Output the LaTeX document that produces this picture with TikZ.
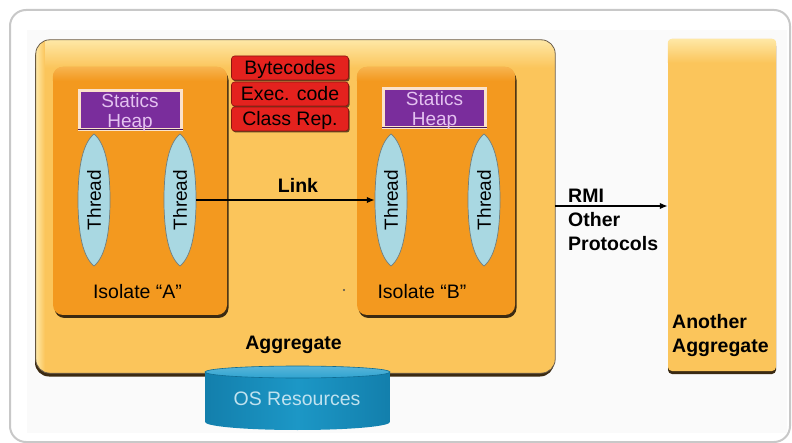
\documentclass[tikz,border=0pt]{standalone}
\usepackage{fontspec}
\setmainfont{Liberation Sans}
\usetikzlibrary{shapes.geometric,arrows.meta,shadows,calc}

\definecolor{aggfill}{HTML}{FBC55B}
\definecolor{agglight}{HTML}{FEE8A6}
\definecolor{isofill}{HTML}{F3991F}
\definecolor{isolight}{HTML}{F7B450}
\definecolor{codered}{HTML}{E4221E}
\definecolor{codeedge}{HTML}{8C1410}
\definecolor{heapviolet}{HTML}{7A2D9C}
\definecolor{heapedge}{HTML}{FBE2CB}
\definecolor{heaptext}{HTML}{E4C2F0}
\definecolor{threadfill}{HTML}{A9D8E2}
\definecolor{threadedge}{HTML}{6F7F80}
\definecolor{osblue}{HTML}{1C97C6}
\definecolor{osdark}{HTML}{137FAC}
\definecolor{ostop}{HTML}{2FA3D0}
\definecolor{framegray}{HTML}{C8C8C8}
\definecolor{edgedark}{HTML}{3B2A12}

% light band along the top of a rounded box
\newcommand\topgloss[5]{%
  \begin{scope}
    \clip[rounded corners=#3] (#1.south west) rectangle (#1.north east);
    \shade[top color=#4, bottom color=#5] (#1.north west) rectangle ([yshift=-#2]#1.north east);
  \end{scope}}

% pointed oval behind a thread label
\newcommand\threadlens[1]{%
  \filldraw[fill=threadfill, draw=threadedge, line width=.7]
    ($(#1)+(0,-66)$) .. controls ($(#1)+(-11,-57)$) and ($(#1)+(-16,-34)$) .. ($(#1)+(-16,0)$)
    .. controls ($(#1)+(-16,34)$) and ($(#1)+(-11,57)$) .. ($(#1)+(0,66)$)
    .. controls ($(#1)+(11,57)$) and ($(#1)+(16,34)$) .. ($(#1)+(16,0)$)
    .. controls ($(#1)+(16,-34)$) and ($(#1)+(11,-57)$) .. cycle;}

\tikzset{
  txt/.style={font=\fontsize{19.5}{24}\selectfont, inner sep=0},
  boldtxt/.style={txt, font=\fontsize{19.5}{24}\selectfont\bfseries},
  aggbox/.style={fill=aggfill, rounded corners=14, inner sep=0,
    drop shadow={shadow xshift=-1pt, shadow yshift=-3.5pt, fill=edgedark, opacity=1}},
  isobox/.style={fill=isofill, rounded corners=10, inner sep=0,
    drop shadow={shadow xshift=1.5pt, shadow yshift=-3pt, fill=edgedark, opacity=1}},
  codebox/.style={fill=codered, draw=codeedge, line width=.6, rounded corners=3,
    minimum width=117, minimum height=24, inner sep=0, text height=14, text depth=0,
    font=\fontsize{19.5}{22}\selectfont,
    drop shadow={shadow xshift=1.2pt, shadow yshift=-1.5pt, fill=edgedark, opacity=.8}},
  heapbox/.style={fill=heapviolet, draw=heapedge, line width=3,
    minimum width=102, minimum height=39, inner sep=0},
  heaplabel/.style={txt, align=center, text=heaptext, font=\fontsize{19}{20}\selectfont},
  thread/.style={ellipse, rotate=90, minimum width=132, minimum height=32, inner sep=0,
    text height=13.5, text depth=0, font=\fontsize{19}{22}\selectfont},
  conn/.style={line width=1.6, -{Latex[length=8pt,width=6.5pt]}},
}

\begin{document}
\begin{tikzpicture}[x=1pt, y=-1pt]
\useasboundingbox (0,0) rectangle (792,443);
\fill[white] (0,0) rectangle (792,443);
\draw[framegray, line width=2, rounded corners=16] (10,10) rectangle (790,442);
\fill[black!2] (27,30) rectangle (787,433);

% the aggregate and its two isolates
\node[aggbox, minimum width=519, minimum height=333] (agg) at (295.5,206.5) {};
\topgloss{agg}{28pt}{14}{agglight}{aggfill}
\begin{scope}
  \clip[rounded corners=14] (agg.south west) rectangle (agg.north east);
  \shade[left color=agglight, right color=aggfill] (agg.south west) rectangle ([xshift=9pt]agg.north west);
\end{scope}
\draw[edgedark!75, line width=.8, rounded corners=14] (agg.south west) rectangle (agg.north east);

\node[isobox, minimum width=174, minimum height=248] (isoA) at (140,191) {};
\topgloss{isoA}{14pt}{10}{isolight}{isofill}
\node[isobox, minimum width=158, minimum height=248] (isoB) at (436,191) {};
\topgloss{isoB}{14pt}{10}{isolight}{isofill}

% static heaps
\node[heapbox] (heapA) at (130,110.5) {};
\draw[heapviolet!60!black, line width=1.2] ([yshift=2.2pt]heapA.south west) -- ([yshift=2.2pt]heapA.south east);
\node[heaplabel] (heapAtxt) at (130,113) {Statics\\Heap};
\node[heapbox] (heapB) at (434.5,108.5) {};
\draw[heapviolet!60!black, line width=1.2] ([yshift=2.2pt]heapB.south west) -- ([yshift=2.2pt]heapB.south east);
\node[heaplabel] (heapBtxt) at (434.5,111) {Statics\\Heap};

% threads
\coordinate (ta1c) at (94,200);
\coordinate (ta2c) at (180,200);
\coordinate (tb1c) at (391,200);
\coordinate (tb2c) at (484,200);
\threadlens{ta1c}\threadlens{ta2c}\threadlens{tb1c}\threadlens{tb2c}
\node[thread] (ta1) at (ta1c) {Thread};
\node[thread] (ta2) at (ta2c) {Thread};
\node[thread] (tb1) at (tb1c) {Thread};
\node[thread] (tb2) at (tb2c) {Thread};

% shared code
\node[codebox] (bytecodes) at (290,68) {Bytecodes};
\node[codebox] (exec) at (290,94) {Exec. code};
\node[codebox] (classrep) at (290,119) {Class Rep.};

% link between the isolates
\draw[conn] (ta2.south) -- (tb1.north);
\node[boldtxt, anchor=base] (linklbl) at (298,193) {Link};

\node[txt, anchor=base] (isoAlbl) at (137.5,299) {Isolate “A”};
\node[txt, anchor=base] (isoBlbl) at (422,299) {Isolate “B”};
\node[boldtxt, anchor=base] (agglbl) at (293.5,349) {Aggregate};
\fill[black!70] (344,290) circle (1.1pt);

% the other aggregate
\node[fill=aggfill, rounded corners=4, inner sep=0, minimum width=108, minimum height=332,
  drop shadow={shadow xshift=0pt, shadow yshift=-3pt, fill=edgedark, opacity=1}] (other) at (722,205) {};
\topgloss{other}{24pt}{4}{agglight}{aggfill}
\node[boldtxt, anchor=north west, align=left] (otherlbl) at (672,314) {Another\\Aggregate};

% remote protocols
\coordinate (rmiy) at (600,206);
\draw[conn] (agg.east |- rmiy) -- (other.west |- rmiy);
\node[boldtxt, anchor=north west, align=left] (rmilbl) at (568,189) {RMI\\Other\\Protocols};

% operating system resources
\shade[left color=osdark, right color=osdark, middle color=osblue]
  (205,372) -- (205,422) arc[start angle=180, end angle=360, x radius=92.5pt, y radius=8pt]
  -- (390,372) -- cycle;
\shade[top color=ostop!80!white, bottom color=ostop] (297.5,372) ellipse[x radius=92.5pt, y radius=6pt];
\draw[osdark!85!black, line width=.6] (297.5,372) ellipse[x radius=92.5pt, y radius=6pt];
\node[txt, anchor=base, text=white!72!osblue] (oslbl) at (297,405) {OS Resources};
\end{tikzpicture}
\end{document}
